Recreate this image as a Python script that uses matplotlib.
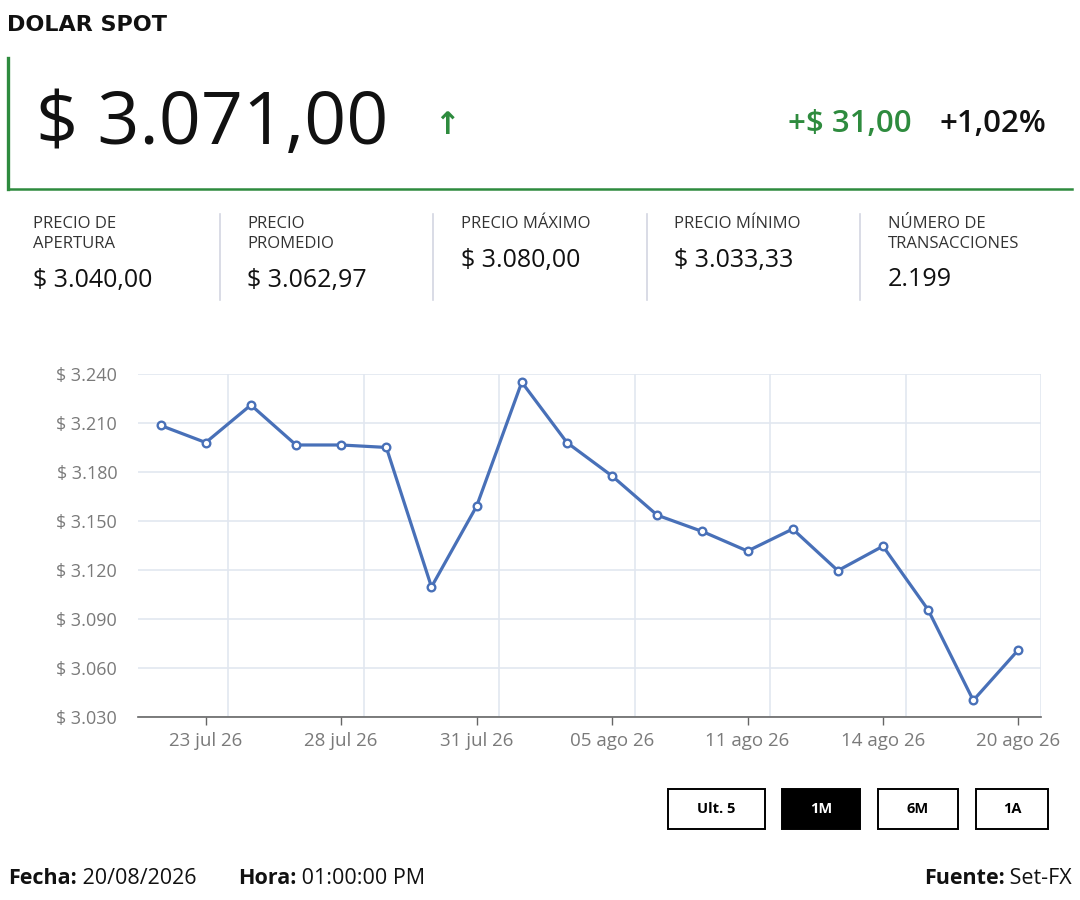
import matplotlib
matplotlib.use("Agg")
import matplotlib.pyplot as plt
from matplotlib.lines import Line2D
from matplotlib.patches import Rectangle

# ---------------- data ----------------
title = "DOLAR SPOT"
price_text = "$ 3.071,00"
change_text = "+$ 31,00"
change_pct_text = "+1,02%"
stat_labels = ["PRECIO DE\nAPERTURA", "PRECIO\nPROMEDIO", "PRECIO MÁXIMO", "PRECIO MÍNIMO", "NÚMERO DE\nTRANSACCIONES"]
stat_values = ["$ 3.040,00", "$ 3.062,97", "$ 3.080,00", "$ 3.033,33", "2.199"]

dates = ["22 jul 26", "23 jul 26", "24 jul 26", "27 jul 26", "28 jul 26", "29 jul 26",
         "30 jul 26", "31 jul 26", "03 ago 26", "04 ago 26", "05 ago 26", "06 ago 26",
         "10 ago 26", "11 ago 26", "12 ago 26", "13 ago 26", "14 ago 26", "18 ago 26",
         "19 ago 26", "20 ago 26"]
values = [3208.5, 3198.0, 3221.0, 3196.5, 3196.5, 3195.0, 3109.5, 3159.0, 3235.0, 3198.0,
          3177.5, 3153.5, 3143.5, 3131.5, 3145.0, 3119.5, 3134.5, 3095.5, 3040.0, 3071.0]
y_ticks = [3030, 3060, 3090, 3120, 3150, 3180, 3210, 3240]
buttons = ["Ult. 5", "1M", "6M", "1A"]
active_button = "1M"
footer_left = [[("Fecha:", True), (" 20/08/2026", False)], [("Hora:", True), (" 01:00:00 PM", False)]]
footer_left_x = [8, 238]
footer_right = [("Fuente:", True), (" Set-FX", False)]

# ---------------- figure ----------------
W, H = 1080, 900
plt.rcParams["font.family"] = ["Open Sans", "DejaVu Sans"]
fig = plt.figure(figsize=(W / 100, H / 100), dpi=100)
fig.patch.set_facecolor("white")


def P(x, y):
    return (x / W, 1 - y / H)


GREEN = "#2e8b3e"
DARK = "#111111"

fig.text(*P(7, 25), title, fontsize=16, fontweight="bold", color=DARK, va="center", ha="left",
         fontfamily="DejaVu Sans")

# green frame lines
fig.add_artist(Line2D([8 / W, 8 / W], [1 - 58 / H, 1 - 189 / H], color=GREEN, lw=2.4))
fig.add_artist(Line2D([8 / W, 1072 / W], [1 - 188.5 / H, 1 - 188.5 / H], color=GREEN, lw=1.8))

fig.text(*P(36, 125), price_text, fontsize=53, color=DARK, va="center", ha="left")
fig.text(*P(447, 125), "↑", fontsize=22, color=GREEN, va="center", ha="center",
         fontfamily="DejaVu Sans", fontweight="bold")
fig.text(*P(912, 124), change_text, fontsize=22.5, color=GREEN, va="center", ha="right", fontweight="semibold")
fig.text(*P(1046, 124), change_pct_text, fontsize=22.5, color=DARK, va="center", ha="right", fontweight="semibold")

# stats row
stat_x = [33, 247, 461, 674, 888]
for i, (lab, val) in enumerate(zip(stat_labels, stat_values)):
    x = stat_x[i]
    fig.text(*P(x, 216), lab, fontsize=12, color="#333333", va="top", ha="left", linespacing=1.3)
    nlines = lab.count("\n") + 1
    vy = 280 if nlines == 2 else 260
    fig.text(*P(x, vy), val, fontsize=18, color=DARK, va="center", ha="left")
for sx in [220, 433, 647, 860]:
    fig.add_artist(Line2D([sx / W, sx / W], [1 - 214 / H, 1 - 300 / H], color="#d3d6e2", lw=1.2))

# ---------------- chart ----------------
ax = fig.add_axes([138 / W, 1 - 716.7 / H, (1041 - 138) / W, (716.7 - 374) / H])
xs = list(range(len(values)))
ax.plot(xs, values, color="#4870b8", lw=2.3, marker="o", markersize=5.5,
        markerfacecolor="white", markeredgecolor="#4870b8", markeredgewidth=1.7, zorder=3, clip_on=False)
ax.set_xlim(-0.5, len(values) - 0.5)
ax.set_ylim(y_ticks[0], y_ticks[-1])
ax.set_yticks(y_ticks)
ax.set_yticklabels(["$ " + f"{v:,}".replace(",", ".") for v in y_ticks])
tick_idx = list(range(1, len(values), 3))
ax.set_xticks(tick_idx)
ax.set_xticklabels([dates[i] for i in tick_idx])
for gx in [i + 0.5 for i in tick_idx]:
    ax.axvline(gx, color="#e2e7f0", lw=1.2, zorder=0)
for gy in y_ticks:
    ax.axhline(gy, color="#e2e7f0", lw=1.2, zorder=0)
for s in ["top", "right", "left"]:
    ax.spines[s].set_visible(False)
ax.spines["bottom"].set_color("#666666")
ax.spines["bottom"].set_linewidth(1.2)
ax.tick_params(axis="y", length=0, pad=15, labelsize=13, labelcolor="#7a7a7a")
ax.tick_params(axis="x", length=6, width=1.0, color="#666666", pad=5, labelsize=13.5, labelcolor="#7a7a7a")

# ---------------- buttons ----------------
btn_boxes = [(668, 765), (782, 860), (878, 958), (976, 1048)]
for (x0, x1), lab in zip(btn_boxes, buttons):
    active = lab == active_button
    r = Rectangle((x0 / W, 1 - 829 / H), (x1 - x0) / W, 40 / H, transform=fig.transFigure,
                  facecolor="black" if active else "white", edgecolor="black", lw=1.4)
    fig.add_artist(r)
    fig.text(((x0 + x1) / 2) / W, 1 - 809 / H, lab, fontsize=10.5, fontweight="bold",
             color="white" if active else "black", va="center", ha="center")

# ---------------- footer ----------------
fig.canvas.draw()
renderer = fig.canvas.get_renderer()
FS = 15.5
for parts, x in zip(footer_left, footer_left_x):
    for txt, bold in parts:
        tt = fig.text(x / W, 1 - 878 / H, txt, fontsize=FS, fontweight="bold" if bold else "normal",
                      color=DARK, va="center", ha="left")
        x += tt.get_window_extent(renderer).width

widths = []
tmp = []
for txt, bold in footer_right:
    tt = fig.text(0, 0, txt, fontsize=FS, fontweight="bold" if bold else "normal")
    widths.append(tt.get_window_extent(renderer).width)
    tmp.append(tt)
for tt in tmp:
    tt.remove()
x = 1072 - sum(widths)
for (txt, bold), w in zip(footer_right, widths):
    fig.text(x / W, 1 - 878 / H, txt, fontsize=FS, fontweight="bold" if bold else "normal",
             color=DARK, va="center", ha="left")
    x += w

fig.savefig("out.png", dpi=100, facecolor="white")
